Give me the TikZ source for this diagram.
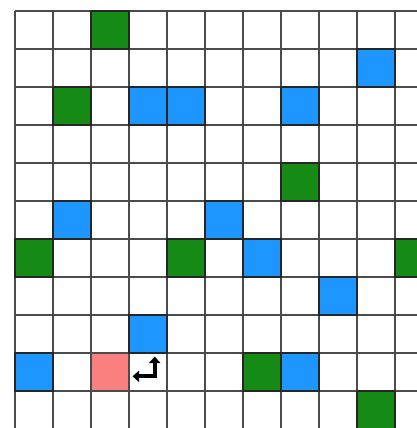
\documentclass[tikz,border=0pt]{standalone}
\usetikzlibrary{arrows.meta}
\definecolor{gcell}{RGB}{21,138,21}
\definecolor{bcell}{RGB}{30,150,255}
\definecolor{rcell}{RGB}{250,128,128}
\definecolor{gridc}{RGB}{75,75,75}
\tikzset{
  gridline/.style={gridc, line width=1.6},
  cellbox/.style={draw=black!85, line width=1.4},
  turnarrow/.style={line width=4, line join=miter, {Triangle[length=6.5,width=11]}-{Triangle[length=6.5,width=11]}}
}
\begin{document}
\begin{tikzpicture}[x=1pt,y=-1pt]
\useasboundingbox (0,0) rectangle (417,428);
\clip (0,0) rectangle (417,428);
\fill[white] (0,0) rectangle (417,428);
% grid lines
\foreach \k in {0,...,10} {
  \draw[gridline] ({15+38*\k},11) -- ({15+38*\k},430);
  \draw[gridline] (15,{11+38*\k}) -- (420,{11+38*\k});
}
% coloured cells
\foreach \c/\r/\col in {2/0/gcell, 9/1/bcell, 1/2/gcell, 3/2/bcell, 4/2/bcell, 7/2/bcell,
  7/4/gcell, 1/5/bcell, 5/5/bcell, 0/6/gcell, 4/6/gcell, 6/6/bcell, 10/6/gcell,
  8/7/bcell, 3/8/bcell, 0/9/bcell, 6/9/gcell, 7/9/bcell, 9/10/gcell} {
  \filldraw[cellbox, fill=\col] ({15+38*\c},{11+38*\r}) rectangle ++(38,38);
}
\fill[rcell] ({15+38*2+0.8},{11+38*9+0.8}) rectangle ++(36.4,36.4);
% turn arrow
\coordinate (aleft) at (132.5,376.3);
\coordinate (acorner) at (154.7,376.3);
\coordinate (atop) at (154.7,356.5);
\draw[turnarrow] (aleft) -- (acorner) -- (atop);
\end{tikzpicture}
\end{document}
